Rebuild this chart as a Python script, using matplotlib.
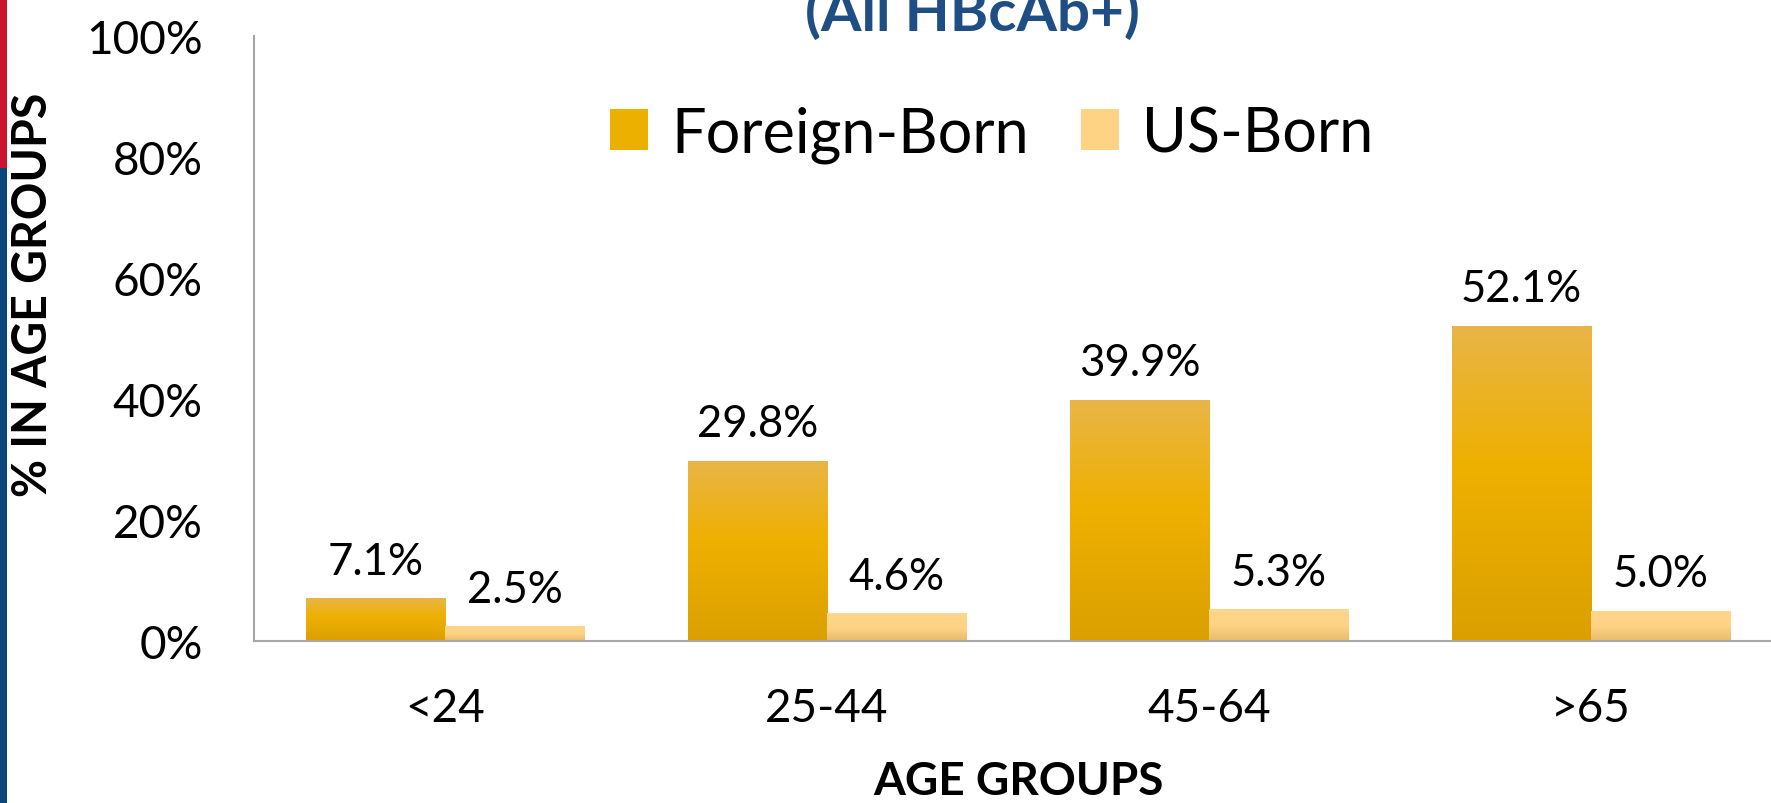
import numpy as np
import matplotlib
matplotlib.use('Agg')
import matplotlib.pyplot as plt
from matplotlib.colors import LinearSegmentedColormap
from matplotlib.patches import Rectangle, Patch
from matplotlib.ticker import FuncFormatter

# data
age_groups = ['<24', '25-44', '45-64', '>65']
foreign_born = [7.1, 29.8, 39.9, 52.1]
us_born = [2.5, 4.6, 5.3, 5.0]
series_names = ['Foreign-Born', 'US-Born']

plt.rcParams['font.family'] = ['Lato', 'DejaVu Sans']

fig = plt.figure(figsize=(17.71, 8.04), dpi=100)
W, H = 1771, 804

# side strip (red over blue)
fig.patches.append(Rectangle((0, 1 - 169 / H), 7 / W, 169 / H, transform=fig.transFigure,
                             facecolor='#C8162E', edgecolor='none'))
fig.patches.append(Rectangle((0, 0), 7 / W, 1 - 169 / H, transform=fig.transFigure,
                             facecolor='#0B4678', edgecolor='none'))

ax = fig.add_axes([254 / W, 162 / H, 1528 / W, 605 / H])

cmap_fb = LinearSegmentedColormap.from_list('fb', [(0, '#DBA000'), (0.55, '#EEB000'), (1, '#E9B547')])
cmap_us = LinearSegmentedColormap.from_list('us', [(0, '#E8BB6C'), (0.45, '#FDD283'), (1, '#FFD78B')])
grad = np.linspace(0, 1, 256).reshape(-1, 1)

x = np.arange(len(age_groups))
bw = 0.364

def gradient_bars(xpos, vals, cmap):
    bars = ax.bar(xpos, vals, bw, facecolor='none', edgecolor='none', zorder=2)
    for b in bars:
        x0, y0 = b.get_x(), b.get_y()
        im = ax.imshow(grad, cmap=cmap, origin='lower', aspect='auto', zorder=2,
                       extent=(x0, x0 + b.get_width(), y0, y0 + b.get_height()))
        im.set_clip_path(b)
    return bars

bars_fb = gradient_bars(x - bw / 2, foreign_born, cmap_fb)
bars_us = gradient_bars(x + bw / 2, us_born, cmap_us)

for bars, vals in [(bars_fb, foreign_born), (bars_us, us_born)]:
    for b, v in zip(bars, vals):
        ax.annotate(f'{v:.1f}%', xy=(b.get_x() + b.get_width() / 2, v), xytext=(0, 17.5),
                    textcoords='offset points', ha='center', va='baseline', fontsize=31.5)

ax.set_xlim(-0.5, 3.5)
ax.set_ylim(0, 100)
ax.set_yticks(range(0, 101, 20))
ax.yaxis.set_major_formatter(FuncFormatter(lambda v, p: f'{v:.0f}%'))
ax.set_xticks(x)
ax.set_xticklabels(age_groups)
ax.tick_params(axis='y', length=0, pad=37, labelsize=33)
ax.tick_params(axis='x', length=0, pad=33, labelsize=33)

for s in ['top', 'right']:
    ax.spines[s].set_visible(False)
for s in ['left', 'bottom']:
    ax.spines[s].set_color('#A6A6A6')
    ax.spines[s].set_linewidth(1.5)

ax.set_xlabel('AGE GROUPS', fontsize=33, fontweight='bold', va='center')
ax.xaxis.set_label_coords(0.5, -0.231)
ax.set_ylabel('% IN AGE GROUPS', fontsize=33.5, fontweight='bold', va='center')
ax.yaxis.set_label_coords(-0.1446, 0.5736)

fig.text(972 / W, 1 - 31 / H, '(All HBcAb+)', ha='center', va='baseline',
         fontsize=42, fontweight='bold', color='#1F4E84')

handles = [Patch(facecolor='#EBB000'), Patch(facecolor='#FED384')]
fig.legend(handles, series_names, loc='center', bbox_to_anchor=(0.56, 1 - 135 / H),
           ncol=2, frameon=False, fontsize=44, handlelength=0.62, handleheight=0.66,
           handletextpad=0.38, columnspacing=0.85, borderpad=0, borderaxespad=0)

fig.savefig('out.png', dpi=100)
